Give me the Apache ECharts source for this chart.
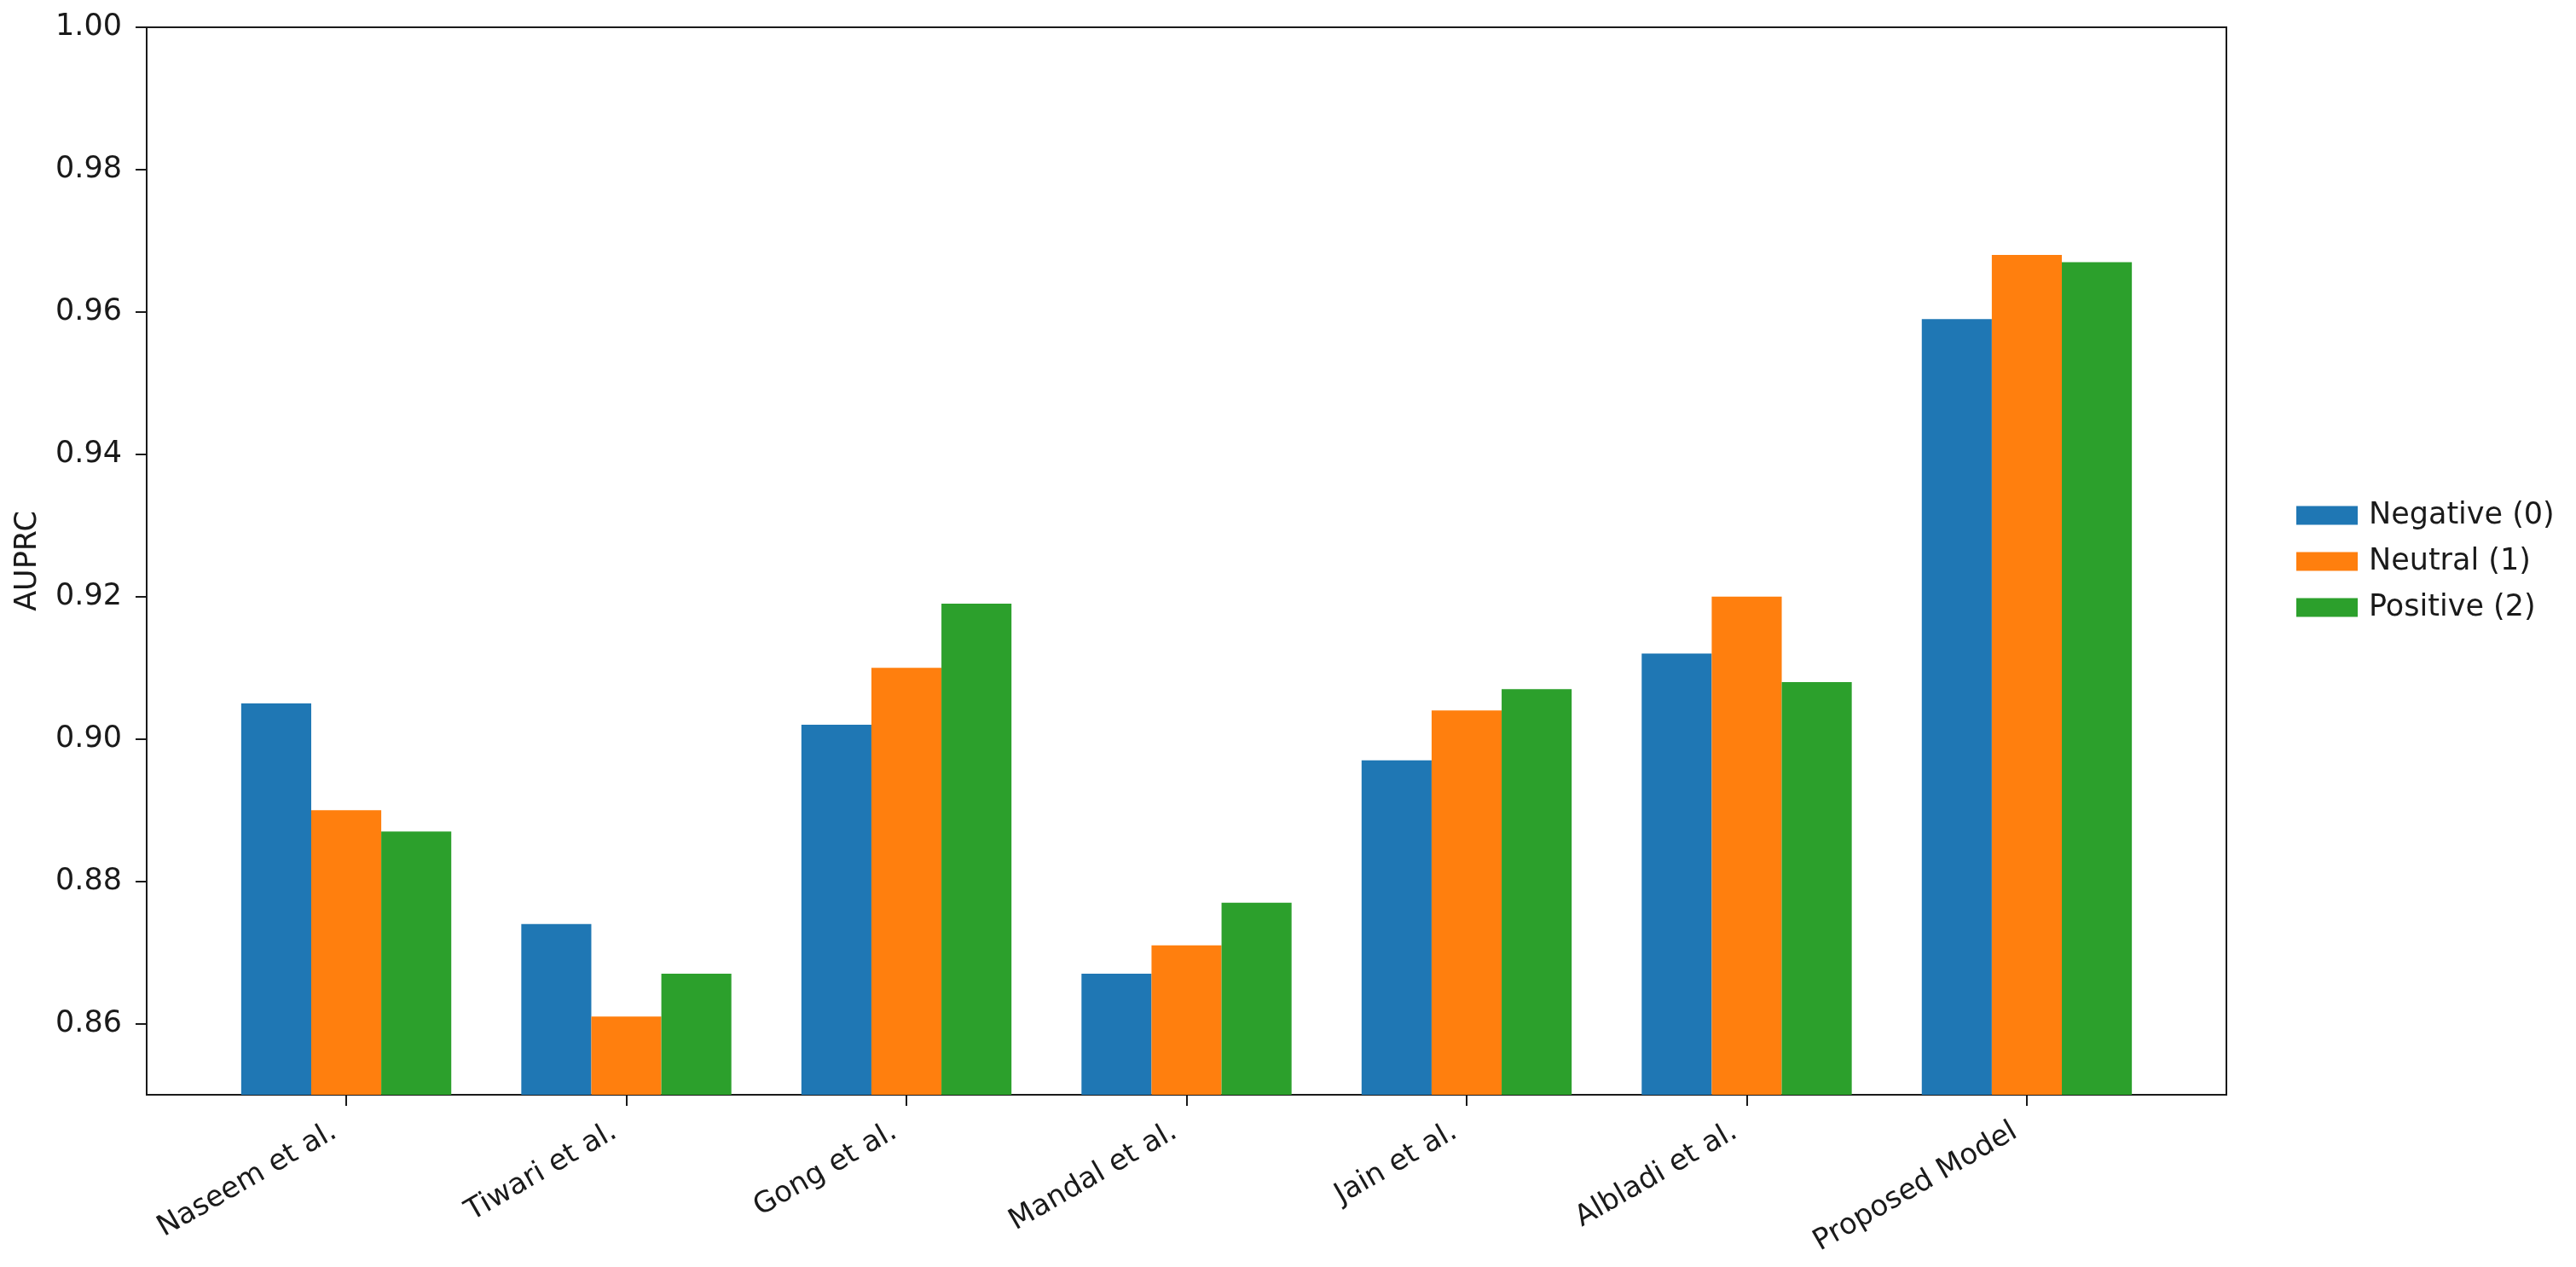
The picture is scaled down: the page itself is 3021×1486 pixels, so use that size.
<!DOCTYPE html>
<html>
<head>
<meta charset="utf-8">
<script src="https://cdn.jsdelivr.net/npm/echarts@6/dist/echarts.min.js"></script>
<style>
html,body{margin:0;padding:0;background:#fff;}
#chart{width:3021px;height:1486px;}
</style>
</head>
<body>
<div id="chart"></div>
<script>
const categories = ['Naseem et al.', 'Tiwari et al.', 'Gong et al.', 'Mandal et al.', 'Jain et al.', 'Albladi et al.', 'Proposed Model'];
const seriesNames = ['Negative (0)', 'Neutral (1)', 'Positive (2)'];
const negativeVals = [0.905, 0.874, 0.902, 0.867, 0.897, 0.912, 0.959];
const neutralVals  = [0.890, 0.861, 0.910, 0.871, 0.904, 0.920, 0.968];
const positiveVals = [0.887, 0.867, 0.919, 0.877, 0.907, 0.908, 0.967];
const yTicks = [0.86, 0.88, 0.90, 0.92, 0.94, 0.96, 0.98, 1.00];
const colors = ['#1f77b4', '#ff7f0e', '#2ca02c'];

const xTicks = categories.map((c, i) => i);
const allVals = [negativeVals, neutralVals, positiveVals];

const chart = echarts.init(document.getElementById('chart'));
const font = 'DejaVu Sans';
chart.setOption({
  animation: false,
  backgroundColor: '#ffffff',
  textStyle: { fontFamily: font },
  color: colors,
  grid: {
    left: 172, right: 410, top: 32, bottom: 202,
    show: true, borderColor: '#1a1a1a', borderWidth: 2,
    containLabel: false, outerBoundsMode: 'none'
  },
  legend: {
    orient: 'vertical',
    left: 2688, top: 582,
    itemWidth: 72, itemHeight: 22, itemGap: 19,
    icon: 'rect',
    textStyle: { fontSize: 35, color: '#1a1a1a', fontFamily: font, padding: [0, 0, 0, 8] },
    data: seriesNames
  },
  xAxis: {
    type: 'value',
    min: -0.7125, max: 6.7125,
    splitLine: { show: false },
    axisLine: { show: true, onZero: false, lineStyle: { color: '#1a1a1a', width: 2 } },
    axisTick: { show: true, length: 13, customValues: xTicks, lineStyle: { color: '#1a1a1a', width: 2 } },
    axisLabel: {
      customValues: xTicks,
      rotate: 30, margin: 33,
      padding: [0, 16, 0, 0],
      fontSize: 34, color: '#1a1a1a', fontFamily: font,
      formatter: v => categories[Math.round(v)] || ''
    }
  },
  yAxis: {
    type: 'value',
    min: 0.85, max: 1.0,
    name: 'AUPRC',
    nameLocation: 'middle',
    nameGap: 122,
    nameTextStyle: { fontSize: 35, color: '#1a1a1a', fontFamily: font },
    splitLine: { show: false },
    axisLine: { show: true, onZero: false, lineStyle: { color: '#1a1a1a', width: 2 } },
    axisTick: { show: true, length: 13, customValues: yTicks, lineStyle: { color: '#1a1a1a', width: 2 } },
    axisLabel: {
      customValues: yTicks,
      margin: 29,
      fontSize: 35, color: '#1a1a1a', fontFamily: font,
      formatter: v => v.toFixed(2)
    }
  },
  series: seriesNames.map((name, s) => ({
    name: name,
    type: 'bar',
    barWidth: '25%',
    barGap: '0%',
    data: allVals[s].map((v, i) => [i, v]),
    itemStyle: { color: colors[s] }
  }))
});
</script>
</body>
</html>
